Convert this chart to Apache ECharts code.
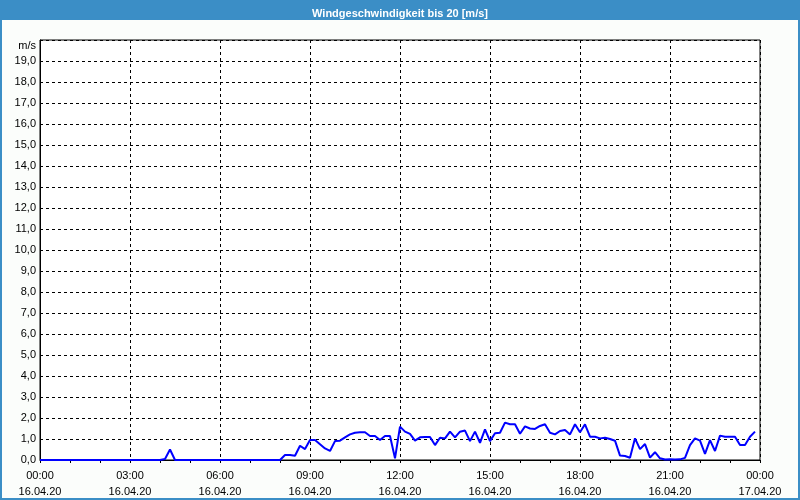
<!DOCTYPE html>
<html>
<head>
<meta charset="utf-8">
<script src="https://cdn.jsdelivr.net/npm/echarts@6/dist/echarts.min.js"></script>
<style>
html,body{margin:0;padding:0;background:#fbfdfb;}
#c{width:800px;height:500px;}
</style>
</head>
<body>
<div id="c"></div>
<script>
// Chart title and units
const chartTitle = 'Windgeschwindigkeit bis 20 [m/s]';
const unitLabel = 'm/s';

// X-axis tick labels (every 3 hours)
const tickTimes = ['00:00','03:00','06:00','09:00','12:00','15:00','18:00','21:00','00:00'];
const tickDates = ['16.04.20','16.04.20','16.04.20','16.04.20','16.04.20','16.04.20','16.04.20','16.04.20','17.04.20'];

// Measurement times (HH:MM on 16.04.20)
const times = [
  '00:00','04:00','04:10','04:20','04:30','08:00','08:10','08:20','08:30','08:40','08:50',
  '09:00','09:10','09:20','09:30','09:40','09:50','10:00','10:10','10:20','10:30','10:40','10:50',
  '11:00','11:10','11:20','11:30','11:40','11:50','12:00','12:10','12:20','12:30','12:40','12:50',
  '13:00','13:10','13:20','13:30','13:40','13:50','14:00','14:10','14:20','14:30','14:40','14:50',
  '15:00','15:10','15:20','15:30','15:40','15:50','16:00','16:10','16:20','16:30','16:40','16:50',
  '17:00','17:10','17:20','17:30','17:40','17:50','18:00','18:10','18:20','18:30','18:40','18:50',
  '19:00','19:10','19:20','19:30','19:40','19:50','20:00','20:10','20:20','20:30','20:40','20:50',
  '21:00','21:10','21:20','21:30','21:40','21:50','22:00','22:10','22:20','22:30','22:40','22:50',
  '23:00','23:10','23:20','23:30','23:40','23:50'
];
// Wind speed in m/s
const speeds = [
  0,0,0.05,0.5,0,0,0.24,0.24,0.2,0.68,0.52,
  0.95,0.95,0.75,0.55,0.43,0.9,0.92,1.08,1.22,1.3,1.32,1.32,
  1.14,1.14,0.95,1.14,1.14,0.08,1.59,1.35,1.24,0.92,1.08,1.1,
  1.1,0.71,1.06,1.03,1.35,1.08,1.35,1.4,0.9,1.35,0.82,1.46,
  0.9,1.27,1.3,1.78,1.7,1.7,1.25,1.6,1.5,1.48,1.62,1.7,
  1.3,1.22,1.38,1.43,1.22,1.7,1.32,1.7,1.11,1.11,1.03,1.06,
  1.0,0.92,0.21,0.19,0.11,1.03,0.52,0.76,0.11,0.37,0.08,0.02,
  0.03,0.02,0.03,0.1,0.71,1.03,0.92,0.29,0.95,0.43,1.16,1.11,
  1.11,1.11,0.71,0.71,1.11,1.35
];

function toMin(s){const p=s.split(':');return (+p[0])*60+(+p[1]);}
const seriesData = times.map((t,i)=>[toMin(t), speeds[i]]);

const chart = echarts.init(document.getElementById('c'), null, {renderer:'canvas'});
const font = 'Liberation Sans, Arial, sans-serif';
chart.setOption({
  backgroundColor:'#fbfdfb',
  animation:false,
  title:{
    text: chartTitle,
    left:'center', top:3,
    textStyle:{color:'#ffffff', fontSize:11, fontWeight:'bold', fontFamily:font}
  },
  graphic:[
    {type:'rect', left:0, top:0, z:-1, shape:{width:800,height:20}, style:{fill:'#3b8ec6'}},
    {type:'rect', left:0, top:0, z:-1, shape:{width:2,height:500}, style:{fill:'#3b8ec6'}},
    {type:'rect', right:0, top:0, z:-1, shape:{width:2,height:500}, style:{fill:'#3b8ec6'}},
    {type:'rect', left:0, bottom:0, z:-1, shape:{width:800,height:2}, style:{fill:'#3b8ec6'}},
    {type:'text', right:764, top:40, style:{text:unitLabel, fill:'#000', font:'11px '+font, textAlign:'right'}}
  ],
  grid:{left:40, right:40, top:40, bottom:40, show:true, backgroundColor:'#ffffff', borderColor:'#000', borderWidth:1},
  xAxis:{
    type:'value', min:0, max:1440, interval:180,
    axisLine:{show:true, lineStyle:{color:'#000', width:1}},
    axisTick:{show:true, length:3, lineStyle:{color:'#000'}},
    minorTick:{show:true, splitNumber:3, length:3, lineStyle:{color:'#000'}},
    splitLine:{show:true, lineStyle:{color:'#000', type:[3,3], width:1}},
    axisLabel:{
      margin:8, color:'#000', fontSize:11, fontFamily:font, lineHeight:16,
      formatter:function(v){const i=Math.round(v/180);return tickTimes[i]+'\n'+tickDates[i];}
    }
  },
  yAxis:{
    type:'value', min:0, max:20, interval:1,
    axisLine:{show:true, lineStyle:{color:'#000', width:1}},
    axisTick:{show:false},
    splitLine:{show:true, lineStyle:{color:'#000', type:[3,3], width:1}},
    axisLabel:{
      margin:4, color:'#000', fontSize:11, fontFamily:font,
      formatter:function(v){return v>=20?'':v.toFixed(1).replace('.',',');}
    }
  },
  series:[{
    type:'line', data:seriesData, showSymbol:false, symbol:'none',
    lineStyle:{color:'#0000ff', width:2}, z:5
  }]
});
</script>
</body>
</html>
